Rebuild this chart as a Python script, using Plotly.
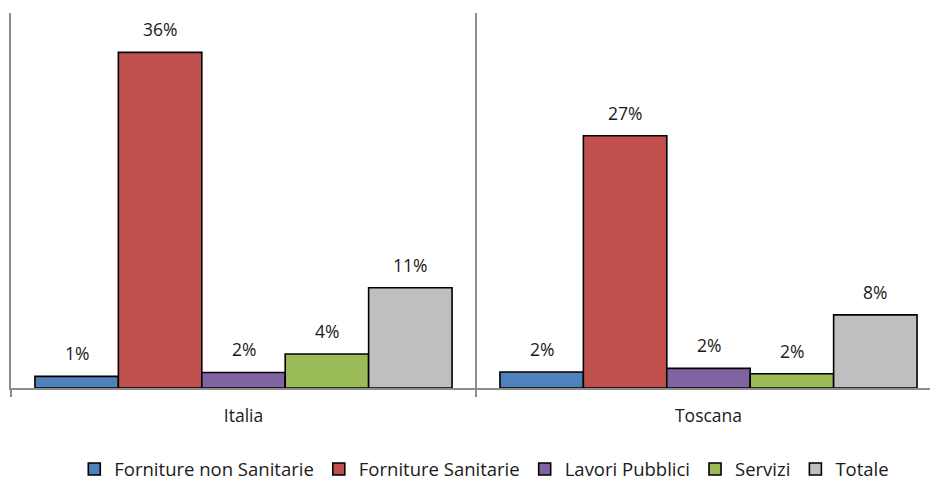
import plotly.graph_objects as go

# Categories on the x axis and the series drawn for each of them (values in %)
categories = ["Italia", "Toscana"]
series_names = ["Forniture non Sanitarie", "Forniture Sanitarie", "Lavori Pubblici", "Servizi", "Totale"]
forniture_non_sanitarie = [1.24, 1.70]
forniture_sanitarie = [35.8, 26.9]
lavori_pubblici = [1.66, 2.09]
servizi = [3.62, 1.52]
totale = [10.7, 7.8]
series_values = [forniture_non_sanitarie, forniture_sanitarie, lavori_pubblici, servizi, totale]
colors = ["#4F81BD", "#C0504D", "#8064A2", "#9BBB59", "#BFBFBF"]

W, H = 930, 484
M_L, M_R, M_T, M_B = 11, 0, 13, 96
BARGAP = 0.103
AXIS_GREY = "#8C8C8C"
FONT = dict(family="Open Sans, Noto Sans, sans-serif", size=17.5, color="#1a1a1a")
LEGEND_FONT = dict(family="Open Sans, Noto Sans, sans-serif", size=18.5, color="#1a1a1a")

# The last category slot runs a little past the right edge of the page
cat_px = 465.0
plot_w = W - M_L - M_R
x_range = [-0.5, -0.5 + plot_w / cat_px]
bar_px = cat_px * (1 - BARGAP) / len(series_names)

fig = go.Figure()
for name, vals, col in zip(series_names, series_values, colors):
    fig.add_trace(go.Bar(
        name=name, x=categories, y=vals,
        marker=dict(color=col, line=dict(color="#000000", width=1.6)),
    ))

# Value labels sit a fixed distance above each bar top
annotations = []
n = len(series_names)
for i, vals in enumerate(series_values):
    for cat, v in zip(categories, vals):
        annotations.append(dict(
            x=cat, y=v, xref="x", yref="y",
            text=f"{v:.0f}%", showarrow=False,
            xshift=(i - (n - 1) / 2) * bar_px, yshift=23,
            yanchor="middle", font=FONT,
        ))

fig.update_layout(
    width=W, height=H,
    margin=dict(l=M_L, r=M_R, t=M_T, b=M_B),
    paper_bgcolor="white", plot_bgcolor="white",
    barmode="group", bargap=BARGAP, bargroupgap=0,
    font=FONT,
    annotations=annotations,
    showlegend=True,
    legend=dict(
        orientation="h", x=0.515, xanchor="center",
        yref="container", y=0.03, yanchor="middle",
        font=LEGEND_FONT, itemwidth=30, traceorder="normal",
    ),
    xaxis=dict(
        type="category", range=x_range,
        tickson="boundaries", ticks="outside", ticklen=7,
        tickcolor=AXIS_GREY, tickwidth=1.5,
        showgrid=True, gridcolor=AXIS_GREY, gridwidth=1.5,
        showline=True, linecolor=AXIS_GREY, linewidth=2,
        ticklabelstandoff=11, tickfont=FONT,
    ),
    yaxis=dict(
        range=[0, 40], showticklabels=False, showgrid=False,
        zeroline=False, showline=True, linecolor=AXIS_GREY, linewidth=1.5,
        ticks="",
    ),
)

fig.write_html("out.html")
